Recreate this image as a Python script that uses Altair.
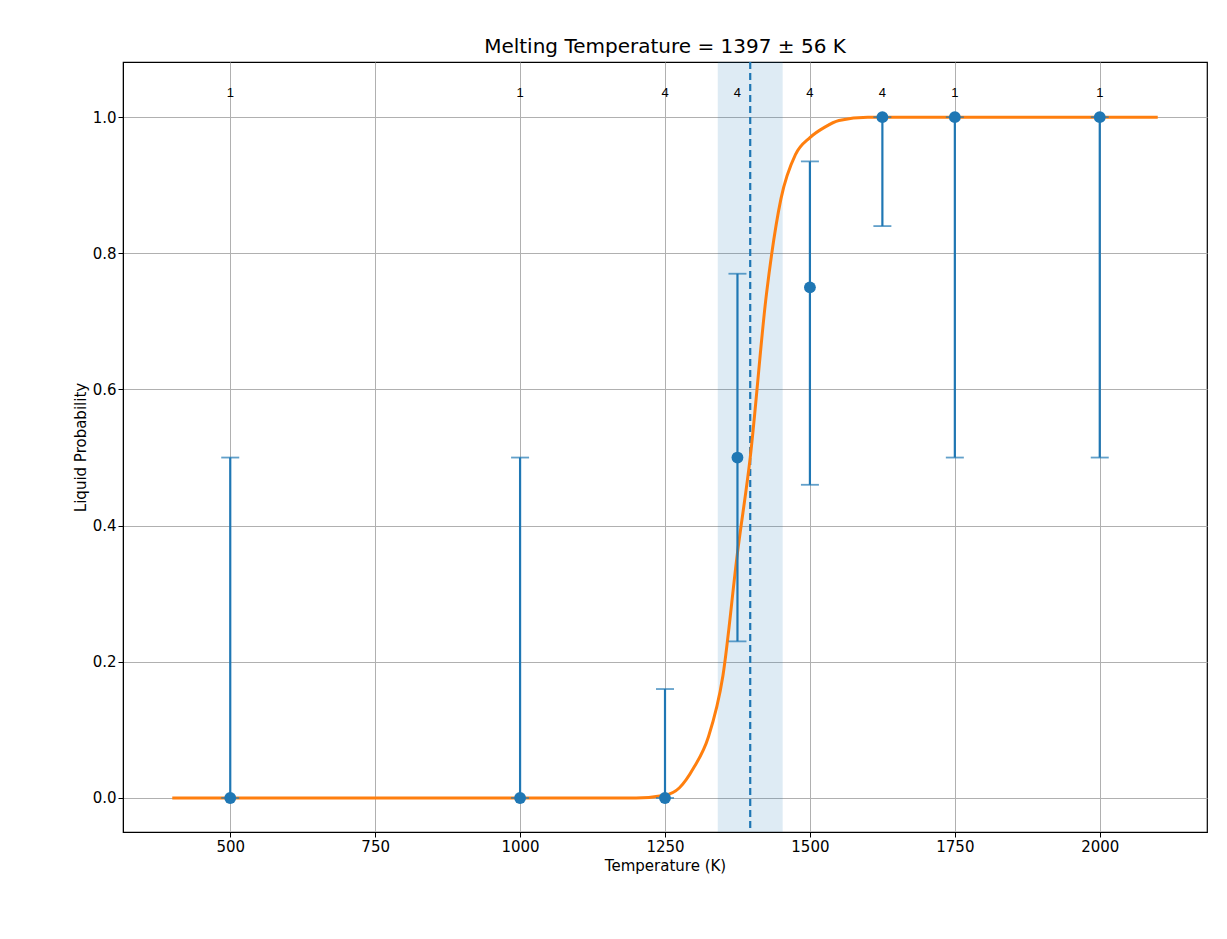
import altair as alt
import pandas as pd

temps = [500, 1000, 1250, 1375, 1500, 1625, 1750, 2000]
prob = [0.0, 0.0, 0.0, 0.5, 0.75, 1.0, 1.0, 1.0]
lower = [0.0, 0.0, 0.0, 0.23, 0.46, 0.84, 0.5, 0.5]
upper = [0.5, 0.5, 0.16, 0.77, 0.935, 1.0, 1.0, 1.0]
counts = ["1", "1", "4", "4", "4", "4", "1", "1"]

curve_t = [400, 1200, 1250, 1275, 1300, 1325, 1350, 1375, 1397, 1425, 1450, 1475, 1500, 1525, 1550, 1600, 2100]
curve_p = [0.0, 0.0, 0.004, 0.015, 0.045, 0.09, 0.18, 0.36, 0.5, 0.74, 0.88, 0.945, 0.97, 0.985, 0.995, 1.0, 1.0]

tm, tm_err = 1397, 56

pts = pd.DataFrame({"T": temps, "p": prob, "lo": lower, "hi": upper, "n": counts, "ty": [1.035] * len(temps)})
curve = pd.DataFrame({"T": curve_t, "p": curve_p})
band = pd.DataFrame({"a": [tm - tm_err], "b": [tm + tm_err], "m": [tm]})

xs = alt.Scale(domain=[315, 2185], nice=False, zero=False)
ys = alt.Scale(domain=[-0.05, 1.081], nice=False)
xax = alt.Axis(values=[500, 750, 1000, 1250, 1500, 1750, 2000], format="d", title="Temperature (K)")
yax = alt.Axis(values=[0, 0.2, 0.4, 0.6, 0.8, 1.0], format=".1f", title="Liquid Probability")

shade = alt.Chart(band).mark_rect(color="#1f77b4", opacity=0.15).encode(
    x=alt.X("a:Q", scale=xs, axis=xax), x2="b:Q")
vline = alt.Chart(band).mark_rule(color="#1f77b4", strokeDash=[7, 4], strokeWidth=2.2).encode(x=alt.X("m:Q", scale=xs))
line = alt.Chart(curve).mark_line(color="#ff7f0e", strokeWidth=3, interpolate="monotone").encode(
    x=alt.X("T:Q", scale=xs, axis=xax), y=alt.Y("p:Q", scale=ys, axis=yax))
err = alt.Chart(pts).mark_rule(color="#1f77b4", strokeWidth=2.2).encode(
    x=alt.X("T:Q", scale=xs), y=alt.Y("lo:Q", scale=ys), y2="hi:Q")
cap_lo = alt.Chart(pts).mark_tick(color="#1f77b4", orient="horizontal", size=18, thickness=1.8).encode(
    x=alt.X("T:Q", scale=xs), y=alt.Y("lo:Q", scale=ys))
cap_hi = alt.Chart(pts).mark_tick(color="#1f77b4", orient="horizontal", size=18, thickness=1.8).encode(
    x=alt.X("T:Q", scale=xs), y=alt.Y("hi:Q", scale=ys))
dots = alt.Chart(pts).mark_circle(color="#1f77b4", opacity=1, size=140).encode(
    x=alt.X("T:Q", scale=xs), y=alt.Y("p:Q", scale=ys))
labels = alt.Chart(pts).mark_text(fontSize=13, color="black").encode(
    x=alt.X("T:Q", scale=xs), y=alt.Y("ty:Q", scale=ys), text="n:N")

chart = alt.layer(shade, vline, line, err, cap_lo, cap_hi, dots, labels).properties(
    width=1084, height=770,
    padding={"left": 65, "top": 28, "right": 5, "bottom": 5},
    title=alt.TitleParams(f"Melting Temperature = {tm} ± {tm_err} K", fontSize=20, fontWeight="normal", font="DejaVu Sans"),
).configure_axis(
    labelFont="DejaVu Sans", titleFont="DejaVu Sans", labelFontSize=15, titleFontSize=15,
    titleFontWeight="normal", gridColor="#b0b0b0", domainColor="black", tickColor="black",
    labelColor="black", titleColor="black",
).configure_view(stroke="black", strokeWidth=1.2)

chart.save("out.html", embed_options={"renderer": "svg", "actions": False})
